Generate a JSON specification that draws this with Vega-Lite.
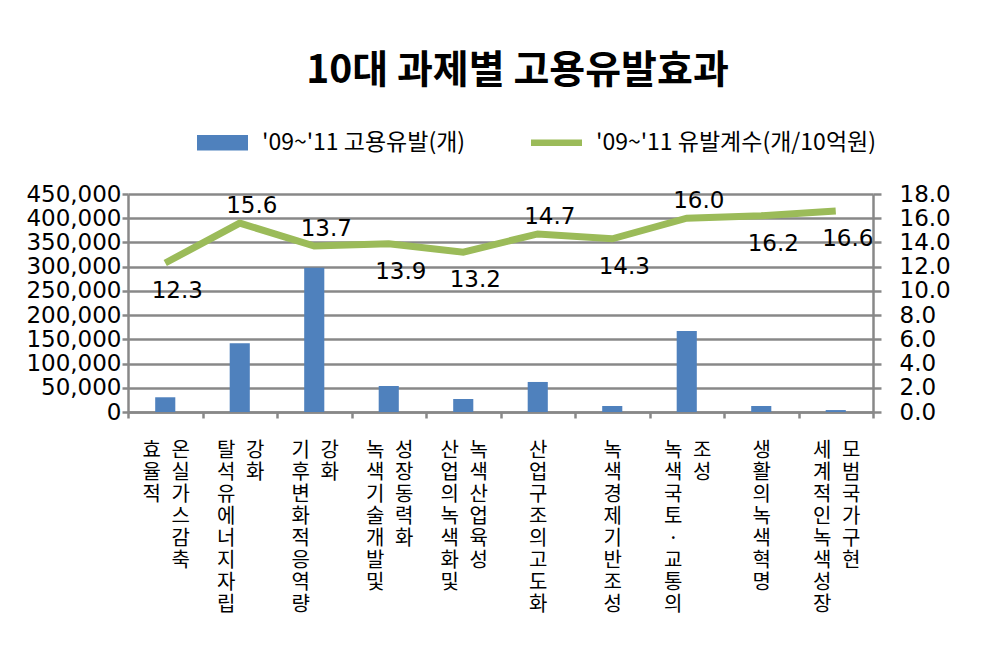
{
  "$schema": "https://vega.github.io/schema/vega-lite/v6.json",
  "width": 745,
  "height": 218,
  "autosize": {"type": "none"},
  "padding": {"left": 128, "top": 194, "right": 135, "bottom": 234},
  "background": "white",
  "title": {
    "text": "10대 과제별 고용유발효과",
    "font": "Noto Sans CJK KR",
    "fontSize": 39,
    "fontWeight": "bold",
    "color": "#000000",
    "anchor": "middle",
    "dx": 17,
    "offset": 26
  },
  "data": {
    "values": [
      {"과제": "효율적 온실가스감축", "고용유발": 30400, "유발계수": 12.3},
      {"과제": "탈석유에너지자립 강화", "고용유발": 142000, "유발계수": 15.6},
      {"과제": "기후변화적응역량 강화", "고용유발": 298000, "유발계수": 13.7},
      {"과제": "녹색기술개발 및 성장동력화", "고용유발": 53700, "유발계수": 13.9},
      {"과제": "산업의 녹색화 및 녹색산업 육성", "고용유발": 26800, "유발계수": 13.2},
      {"과제": "산업구조의 고도화", "고용유발": 62000, "유발계수": 14.7},
      {"과제": "녹색경제 기반조성", "고용유발": 12400, "유발계수": 14.3},
      {"과제": "녹색국토 · 교통의 조성", "고용유발": 167000, "유발계수": 16.0},
      {"과제": "생활의 녹색혁명", "고용유발": 12400, "유발계수": 16.2},
      {"과제": "세계적인 녹색성장 모범국가 구현", "고용유발": 4000, "유발계수": 16.6}
    ]
  },
  "layer": [
    {
      "mark": {"type": "bar", "width": {"band": 0.27}},
      "encoding": {
        "x": {
          "field": "과제",
          "type": "nominal",
          "sort": null,
          "scale": {"paddingInner": 0, "paddingOuter": 0},
          "axis": {
            "orient": "bottom",
            "title": null,
            "labelAngle": 0,
            "labelAlign": "center",
            "labelBaseline": "top",
            "labelFont": "Noto Sans CJK KR",
            "labelFontSize": 20,
            "labelLineHeight": 22,
            "labelColor": "#000000",
            "labelPadding": 22,
            "labelOverlap": false,
            "labelLimit": 0,
            "labelOffset": {
              "condition": {"test": "indexof(['산업구조의 고도화','녹색경제 기반조성','생활의 녹색혁명'], datum.value) < 0", "value": -14},
              "value": 0
            },
            "tickBand": "extent",
            "tickSize": 6,
            "tickColor": "#888888",
            "tickWidth": 2.5,
            "domainColor": "#888888",
            "domainWidth": 2.5,
            "labelExpr": "split(({'효율적 온실가스감축':'효율적','탈석유에너지자립 강화':'탈석유에너지자립','기후변화적응역량 강화':'기후변화적응역량','녹색기술개발 및 성장동력화':'녹색기술개발및','산업의 녹색화 및 녹색산업 육성':'산업의녹색화및','산업구조의 고도화':'산업구조의고도화','녹색경제 기반조성':'녹색경제기반조성','녹색국토 · 교통의 조성':'녹색국토·교통의','생활의 녹색혁명':'생활의녹색혁명','세계적인 녹색성장 모범국가 구현':'세계적인녹색성장'}[datum.value]) || '', '')"
          }
        },
        "y": {
          "field": "고용유발",
          "type": "quantitative",
          "scale": {"domain": [0, 450000], "nice": false},
          "axis": {
            "title": null,
            "values": [0, 50000, 100000, 150000, 200000, 250000, 300000, 350000, 400000, 450000],
            "format": ",d",
            "labelFont": "DejaVu Sans",
            "labelFontSize": 23,
            "labelColor": "#000000",
            "labelPadding": 1,
            "labelOverlap": false,
            "labelBound": false,
            "labelFlush": false,
            "tickSize": 6,
            "tickColor": "#888888",
            "tickWidth": 2.5,
            "domainColor": "#888888",
            "domainWidth": 2.5,
            "grid": true,
            "gridColor": "#888888",
            "gridWidth": 2.5
          }
        },
        "color": {
          "datum": "'09~'11 고용유발(개)",
          "type": "nominal",
          "scale": {
            "domain": ["'09~'11 고용유발(개)", "'09~'11 유발계수(개/10억원)"],
            "range": ["#4F81BD", "#9BBB59"]
          },
          "legend": {
            "orient": "none",
            "legendX": 69,
            "legendY": -77,
            "direction": "horizontal",
            "title": null,
            "padding": 0,
            "labelFont": "Noto Sans CJK KR",
            "labelFontSize": 23,
            "labelColor": "#000000",
            "labelLimit": 500,
            "labelOffset": 14,
            "columnPadding": 65,
            "symbolSize": 2601,
            "encode": {
              "symbols": {
                "update": {
                  "shape": [
                    {"test": "datum.index === 0", "value": "M-1,-0.3H1V0.3H-1Z"},
                    {"value": "M-1,-0.13H1V0.13H-1Z"}
                  ],
                  "fill": [
                    {"test": "datum.index === 0", "value": "#4F81BD"},
                    {"value": "#9BBB59"}
                  ],
                  "stroke": {"value": "transparent"},
                  "strokeWidth": {"value": 0},
                  "opacity": {"value": 1}
                }
              }
            }
          }
        }
      }
    },
    {
      "encoding": {
        "x": {
          "field": "과제",
          "type": "nominal",
          "sort": null,
          "scale": {"paddingInner": 0, "paddingOuter": 0},
          "axis": {
            "orient": "bottom",
            "title": null,
            "domain": false,
            "labelAngle": 0,
            "labelAlign": "center",
            "labelBaseline": "top",
            "labelFont": "Noto Sans CJK KR",
            "labelFontSize": 20,
            "labelLineHeight": 22,
            "labelColor": "#000000",
            "labelPadding": 22,
            "labelOverlap": false,
            "labelLimit": 0,
            "labelOffset": 15,
            "tickBand": "extent",
            "tickSize": 6,
            "tickColor": "transparent",
            "tickWidth": 2.5,
            "labelExpr": "split(({'효율적 온실가스감축':'온실가스감축','탈석유에너지자립 강화':'강화','기후변화적응역량 강화':'강화','녹색기술개발 및 성장동력화':'성장동력화','산업의 녹색화 및 녹색산업 육성':'녹색산업육성','산업구조의 고도화':'','녹색경제 기반조성':'','녹색국토 · 교통의 조성':'조성','생활의 녹색혁명':'','세계적인 녹색성장 모범국가 구현':'모범국가구현'}[datum.value]) || '', '')"
          }
        },
        "y": {
          "field": "유발계수",
          "type": "quantitative",
          "scale": {"domain": [0, 18], "nice": false},
          "axis": {
            "orient": "right",
            "title": null,
            "values": [0, 2, 4, 6, 8, 10, 12, 14, 16, 18],
            "format": ".1f",
            "labelFont": "DejaVu Sans",
            "labelFontSize": 23,
            "labelColor": "#000000",
            "labelPadding": 18,
            "labelOverlap": false,
            "labelBound": false,
            "labelFlush": false,
            "tickSize": 8,
            "tickColor": "#888888",
            "tickWidth": 2.5,
            "domainColor": "#888888",
            "domainWidth": 2.5,
            "grid": false
          }
        }
      },
      "layer": [
        {
          "mark": {"type": "line", "strokeWidth": 7},
          "encoding": {
            "color": {
              "datum": "'09~'11 유발계수(개/10억원)",
              "type": "nominal",
              "scale": {
                "domain": ["'09~'11 고용유발(개)", "'09~'11 유발계수(개/10억원)"],
                "range": ["#4F81BD", "#9BBB59"]
              }
            }
          }
        },
        {
          "transform": [{"filter": {"field": "과제", "oneOf": ["탈석유에너지자립 강화", "기후변화적응역량 강화", "산업구조의 고도화", "녹색국토 · 교통의 조성"]}}],
          "mark": {"type": "text", "dx": 12, "dy": -17, "font": "DejaVu Sans", "fontSize": 23, "color": "#000000"},
          "encoding": {"text": {"field": "유발계수", "type": "quantitative", "format": ".1f"}}
        },
        {
          "transform": [{"filter": {"field": "과제", "oneOf": ["효율적 온실가스감축", "녹색기술개발 및 성장동력화", "산업의 녹색화 및 녹색산업 육성", "녹색경제 기반조성", "생활의 녹색혁명", "세계적인 녹색성장 모범국가 구현"]}}],
          "mark": {"type": "text", "dx": 12, "dy": 28, "font": "DejaVu Sans", "fontSize": 23, "color": "#000000"},
          "encoding": {"text": {"field": "유발계수", "type": "quantitative", "format": ".1f"}}
        }
      ]
    }
  ],
  "resolve": {"scale": {"y": "independent"}, "axis": {"x": "independent"}},
  "config": {
    "view": {"stroke": null}
  }
}
